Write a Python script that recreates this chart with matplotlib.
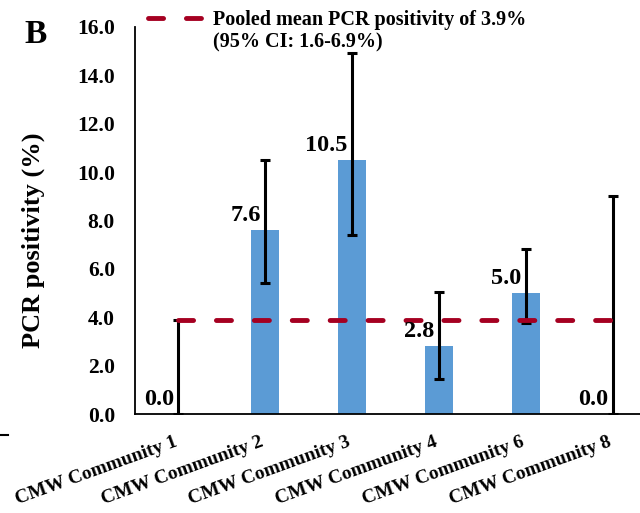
import matplotlib
matplotlib.use("Agg")
import matplotlib.pyplot as plt
from matplotlib.lines import Line2D
from matplotlib.transforms import ScaledTranslation
import numpy as np

plt.rcParams['font.family'] = ['Liberation Serif', 'DejaVu Serif']
plt.rcParams['font.weight'] = 'bold'

# ---- data ----
categories = ['CMW Community 1', 'CMW Community 2', 'CMW Community 3',
              'CMW Community 4', 'CMW Community 6', 'CMW Community 8']
positivity = [0.0, 7.6, 10.5, 2.8, 5.0, 0.0]
ci_lower = [0.0, 5.4, 7.4, 1.45, 3.78, 0.0]
ci_upper = [3.88, 10.52, 14.92, 5.04, 6.82, 9.01]
pooled_mean = 3.9
pooled_label = 'Pooled mean PCR positivity of 3.9%\n(95% CI: 1.6-6.9%)'
yticks = [0, 2, 4, 6, 8, 10, 12, 14, 16]

bar_color = '#5B9BD5'
line_color = '#A50021'

W, H = 640, 513
fig = plt.figure(figsize=(W / 100, H / 100), dpi=100)
ax = fig.add_axes([135 / W, (H - 414) / H, 521 / W, (414 - 27) / H])

x = np.arange(len(categories))
vals = np.array(positivity)
yerr = [vals - np.array(ci_lower), np.array(ci_upper) - vals]

ax.bar(x, vals, width=0.32, color=bar_color, zorder=2)
ax.errorbar(x, vals, yerr=yerr, fmt='none', ecolor='black',
            elinewidth=2.2, capsize=3.6, capthick=2.2, zorder=3)

dash = (0, (3.1, 4.7))
ax.hlines(pooled_mean, x[0], x[-1], colors=line_color, linewidth=3.5,
          linestyles=[dash], zorder=4, capstyle='round')

for xi, v in zip(x, vals):
    ax.text(xi - 0.05, v + 0.37, f'{v:.1f}', ha='right', va='baseline',
            fontsize=17.5, fontweight='bold', zorder=5)

ax.set_xlim(-0.5, len(categories) - 0.5)
ax.set_ylim(0, 16)
ax.set_yticks(yticks)
ax.set_yticklabels([f'{t:.1f}' for t in yticks], fontsize=15.5, fontweight='bold')
ax.tick_params(axis='y', length=0, pad=14.4)
ax.set_xticks(x)
ax.set_xticklabels(categories, rotation=20, ha='right', va='top',
                   rotation_mode='anchor', fontsize=14, fontweight='bold')
ax.tick_params(axis='x', length=0, pad=14)
shift = ScaledTranslation(-5 / 100, 0, fig.dpi_scale_trans)
for lab in ax.get_xticklabels():
    lab.set_transform(lab.get_transform() + shift)

ax.spines['top'].set_visible(False)
ax.spines['right'].set_visible(False)
for s in ('left', 'bottom'):
    ax.spines[s].set_linewidth(1.3)
    ax.spines[s].set_color('black')

ax.set_ylabel('PCR positivity (%)', fontsize=19, fontweight='bold')
ax.yaxis.set_label_coords(-(135 - 45) / 521, (414 - 240) / (414 - 27))

# panel letter
fig.text(36 / W, 1 - 35 / H, 'B', fontsize=24, fontweight='bold',
         ha='center', va='center')

# legend (manual, first-line aligned)
fig.add_artist(Line2D([148 / W, 206 / W], [1 - 18 / H, 1 - 18 / H],
                      transform=fig.transFigure, color=line_color,
                      linewidth=3.5, linestyle=dash, solid_capstyle='round',
                      dash_capstyle='round'))
fig.text(213 / W, 1 - 25 / H, pooled_label.split('\n')[0], fontsize=14.5,
         fontweight='bold', ha='left', va='baseline')
fig.text(213 / W, 1 - 47 / H, pooled_label.split('\n')[1], fontsize=14.5,
         fontweight='bold', ha='left', va='baseline')

# stray short mark at left
fig.add_artist(Line2D([0 / W, 8 / W], [1 - 435 / H, 1 - 435 / H],
                      transform=fig.transFigure, color='black', linewidth=1.5))

fig.savefig('out.png', dpi=100)
